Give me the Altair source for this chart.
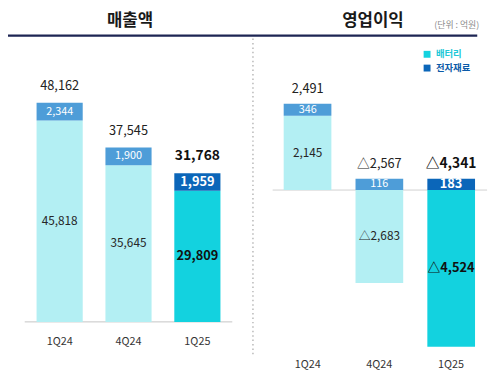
import altair as alt
import pandas as pd

quarters = ["1Q24", "4Q24", "1Q25"]
rev_battery = [45818, 35645, 29809]
rev_elec = [2344, 1900, 1959]
rev_total = [48162, 37545, 31768]
op_battery = [2145, -2683, -4524]
op_elec = [346, 116, 183]
op_total = [2491, -2567, -4341]
series_names = ["배터리", "전자재료"]
highlight_q = "1Q25"
titles = ["매출액", "영업이익"]
unit_text = "(단위 : 억원)"

FONT = "Noto Sans CJK KR"
# minimum drawn height of the thin 전자재료 segment (as in the reference), in data units
MIN_L = 4000
MIN_R = 330

PAD_T = 6


def px(v):
    return v - 8


def py(v):
    return v - 8 - PAD_T


keys = ["배터리", "전자재료", "배터리_hi", "전자재료_hi"]
key_colors = ["#b3eff3", "#4e9dd8", "#13d2df", "#0b66b9"]


def fmt(v):
    return ("△" if v < 0 else "") + f"{abs(v):,}"


def build(bat, ele, tot, minh):
    seg, tots = [], []
    for q, b, e, t in zip(quarters, bat, ele, tot):
        hi = q == highlight_q
        base = max(b, 0)
        top = base + max(e, minh)
        seg.append(dict(q=q, series="배터리", y0=0, y1=b, mid=b / 2, label=fmt(b),
                        hi=hi, key="배터리" + ("_hi" if hi else "")))
        seg.append(dict(q=q, series="전자재료", y0=base, y1=top, mid=(base + top) / 2,
                        label=fmt(e), hi=hi, key="전자재료" + ("_hi" if hi else "")))
        tots.append(dict(q=q, top=top, label=fmt(t), hi=hi))
    return pd.DataFrame(seg), pd.DataFrame(tots)


segL, totL = build(rev_battery, rev_elec, rev_total, MIN_L)
segR, totR = build(op_battery, op_elec, op_total, MIN_R)

xsL = dict(domain=quarters, range=[px(25.5), px(235.5)], paddingInner=0.33, paddingOuter=0.165)
xsR = dict(domain=quarters, range=[px(276.2), px(494.8)], paddingInner=0.336, paddingOuter=0.165)
ysL = dict(domain=[0, 60000], range=[py(324), py(55.8)])
ysR = dict(domain=[-5000, 5000], range=[py(366), py(14)])


def panel(seg, tot, xs, ys, dy_total, xlab_y):
    X = lambda: alt.X("q:N", sort=quarters, scale=alt.Scale(**xs), axis=None)
    layers = []
    layers.append(alt.Chart(seg).mark_bar().encode(
        x=X(),
        y=alt.Y("y0:Q", scale=alt.Scale(**ys), axis=None),
        y2="y1:Q",
        color=alt.Color("key:N", scale=alt.Scale(domain=keys, range=key_colors), legend=None),
    ))
    for hi in [False, True]:
        for s, col, fs in [("배터리", "#262626" if not hi else "#111111", 12 if not hi else 13),
                           ("전자재료", "#ffffff", 11 if not hi else 13)]:
            layers.append(alt.Chart(seg).transform_filter(
                (alt.datum.series == s) & (alt.datum.hi == hi)
            ).mark_text(font=FONT, fontSize=fs, fontWeight="bold" if hi else "normal",
                        color=col, baseline="middle").encode(
                x=X(),
                y=alt.Y("mid:Q", scale=alt.Scale(**ys), axis=None),
                text="label:N",
            ))
        layers.append(alt.Chart(tot).transform_filter(alt.datum.hi == hi).mark_text(
            font=FONT, fontSize=14 if hi else 13, fontWeight="bold" if hi else "normal",
            color="#111111" if hi else "#222222", baseline="middle", dy=dy_total).encode(
            x=X(),
            y=alt.Y("top:Q", scale=alt.Scale(**ys), axis=None),
            text="label:N",
        ))
    layers.append(alt.Chart(pd.DataFrame({"q": quarters})).mark_text(
        font=FONT, fontSize=11, color="#333333", baseline="middle").encode(
        x=X(), y=alt.value(py(xlab_y)), text="q:N"))
    return layers


one = pd.DataFrame({"a": [0]})
rules = [
    alt.Chart(one).mark_rule(color="#1d2553", strokeWidth=2.5).encode(
        x=alt.value(px(8)), x2=alt.value(px(485)), y=alt.value(py(33))),
    alt.Chart(one).mark_rule(color="#b8b8b8", strokeWidth=1.5, strokeDash=[1.5, 3]).encode(
        x=alt.value(px(257)), y=alt.value(py(36)), y2=alt.value(py(358))),
    alt.Chart(one).mark_rule(color="#c4c4c4", strokeWidth=1).encode(
        x=alt.value(px(25)), x2=alt.value(px(236)), y=alt.value(py(324))),
    alt.Chart(one).mark_rule(color="#d0d0d0", strokeWidth=1).encode(
        x=alt.value(px(277)), x2=alt.value(px(495)), y=alt.value(py(190))),
]

texts = [
    alt.Chart(pd.DataFrame({"t": [titles[0]]})).mark_text(
        font=FONT, fontSize=17, fontWeight="bold", color="#1a1a1a", baseline="middle").encode(
        x=alt.value(px(132)), y=alt.value(py(18.5)), text="t:N"),
    alt.Chart(pd.DataFrame({"t": [titles[1]]})).mark_text(
        font=FONT, fontSize=17, fontWeight="bold", color="#1a1a1a", baseline="middle").encode(
        x=alt.value(px(379)), y=alt.value(py(18.5)), text="t:N"),
    alt.Chart(pd.DataFrame({"t": [unit_text]})).mark_text(
        font=FONT, fontSize=9, color="#8c8c8c", baseline="middle", align="right").encode(
        x=alt.value(px(487)), y=alt.value(py(22)), text="t:N"),
]

leg = pd.DataFrame({"series": series_names})
legY = alt.Y("series:N", scale=alt.Scale(domain=series_names, range=[py(52), py(66)], padding=0),
             axis=None)
legend_layers = [
    alt.Chart(leg).mark_square(size=49, opacity=1).encode(
        x=alt.value(px(434)), y=legY,
        color=alt.Color("series:N", scale=alt.Scale(domain=series_names, range=["#13d2df", "#0b66b9"]),
                        legend=None)),
    alt.Chart(leg).mark_text(font=FONT, fontSize=9.5, fontWeight="bold", align="left",
                             baseline="middle").encode(
        x=alt.value(px(443)), y=legY, text="series:N",
        color=alt.Color("series:N", scale=alt.Scale(domain=series_names, range=["#1fc8d8", "#0b5aa8"]),
                        legend=None)),
]

all_layers = (rules + panel(segL, totL, xsL, ysL, -17, 345)
              + panel(segR, totR, xsR, ysR, -15, 368) + texts + legend_layers)

chart = alt.layer(*all_layers).resolve_scale(
    x="independent", y="independent", color="independent"
).properties(
    width=492, height=371 - PAD_T, autosize=alt.AutoSizeParams(type="none"),
    padding={"top": PAD_T, "left": 0, "right": 0, "bottom": 0}
).configure_view(stroke=None)

chart.save("out.html", embed_options={"renderer": "svg", "actions": False})
